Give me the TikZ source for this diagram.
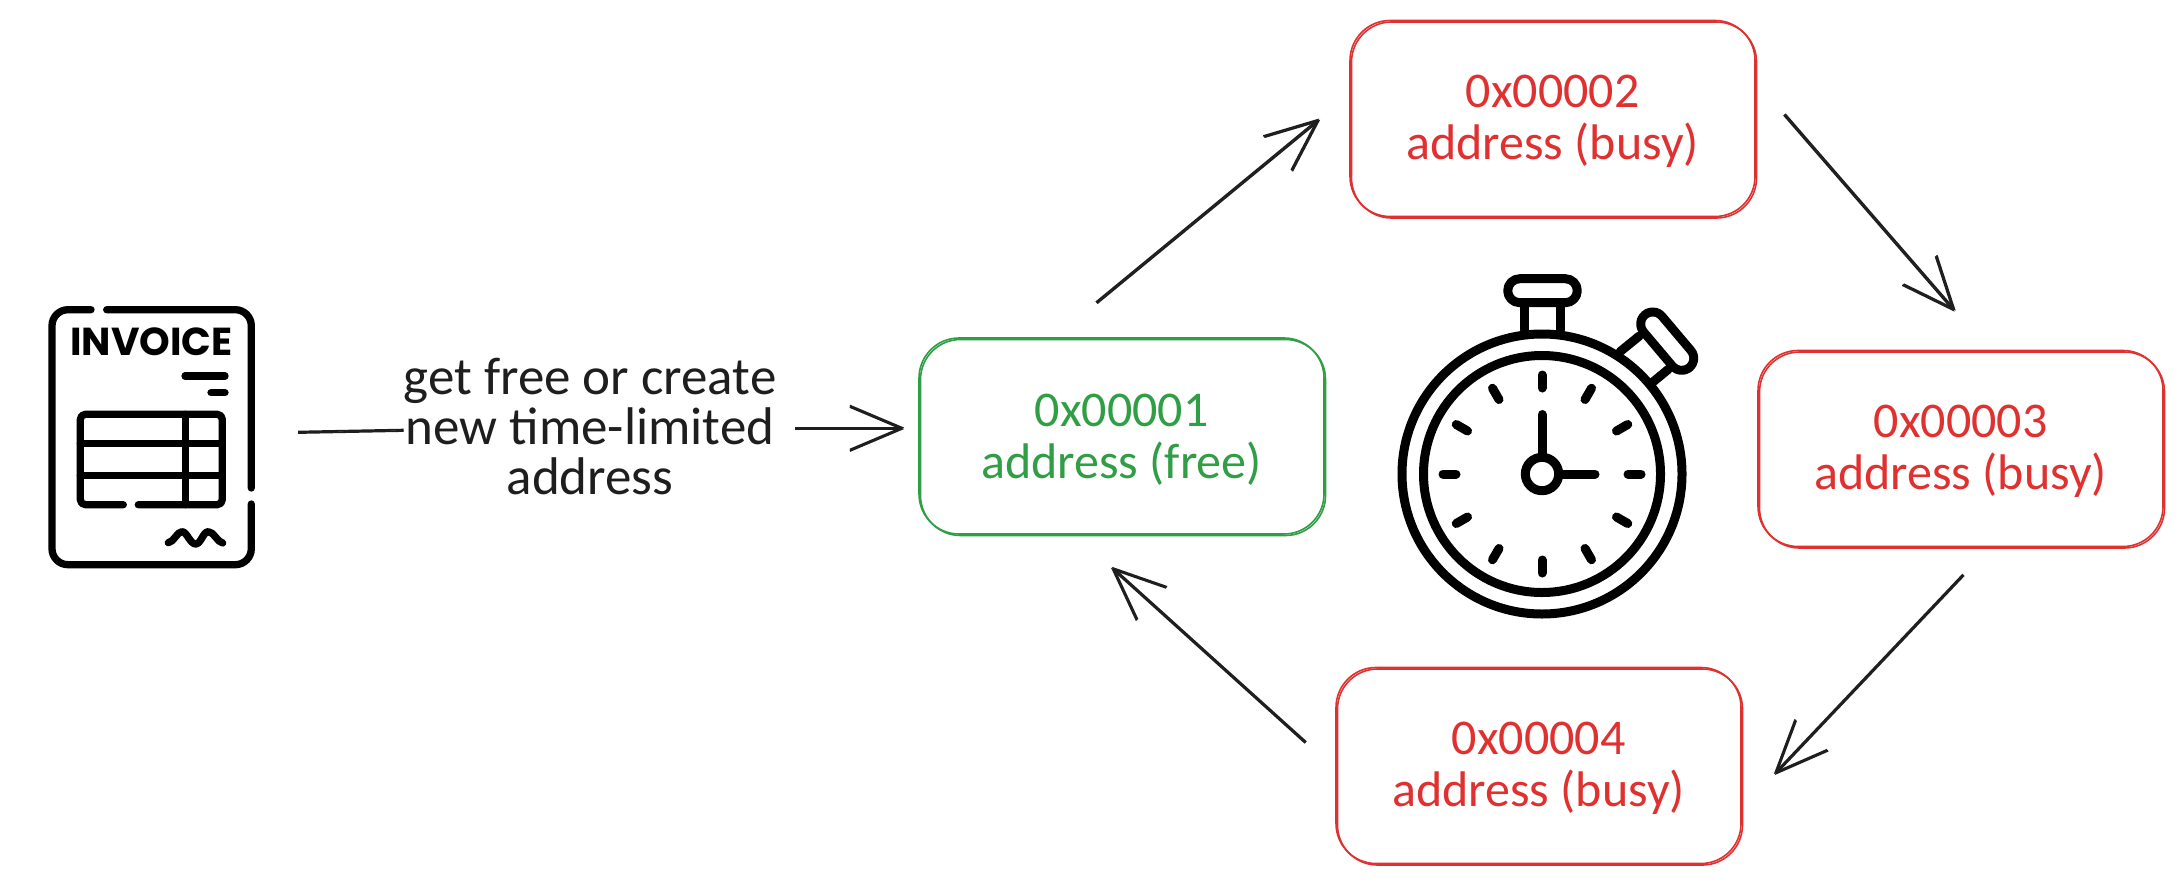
\documentclass[tikz,border=0pt]{standalone}
\usepackage{fontspec}
\setmainfont{Carlito}
\newfontfamily\invfont{Poppins}
\usetikzlibrary{arrows.meta,calc}
\definecolor{inkred}{HTML}{E03131}
\definecolor{inkgreen}{HTML}{2F9E44}
\definecolor{ink}{HTML}{1E1E1E}
\newcommand\upstrut{\rule{0pt}{39pt}}
\tikzset{
  sketch/.style={postaction={draw,transform canvas={shift={(#1)}}}},
  addrbox/.style={draw=#1,text=#1,line width=1.6pt,rounded corners=40pt,minimum width=405pt,minimum height=196pt,inner sep=0pt,align=center,font=\fontsize{50}{52}\selectfont,sketch={1.5pt,-1.5pt}},
  plainflow/.style={draw=ink,line width=1.8pt},
  flow/.style={plainflow,-{Straight Barb[length=52pt,width=44pt,line width=1.8pt]}},
  icon/.style={draw=black,line width=#1,line cap=round,line join=round},
  icon/.default=9pt
}
\begin{document}
\begin{tikzpicture}[x=1pt,y=-1pt]
\useasboundingbox[fill=white] (0,0) rectangle (2183,883);
% invoice icon
\node[minimum width=207pt,minimum height=262pt,inner sep=0pt] (inv) at (151.5,437) {};
\draw[icon=7.3pt,rounded corners=16pt] (106.7,309.7) -- (251.3,309.7) -- (251.3,488);
\draw[icon=7.3pt,rounded corners=16pt] (251.3,504) -- (251.3,564.7) -- (52,564.7) -- (52,309.7) -- (91,309.7);
\node[inner sep=0pt,font=\invfont\bfseries\fontsize{39}{39}\selectfont,text=black] (invtext) at (151.5,341.5) {INVOICE};
\draw[icon=7.3pt] (185,376) -- (225,376);
\draw[icon=7.3pt] (211,392.7) -- (225,392.7);
\draw[icon=7.3pt,rounded corners=5pt] (123.3,504.7) -- (80.3,504.7) -- (80.3,414.3) -- (222.3,414.3) -- (222.3,504.7) -- (138.3,504.7);
\draw[icon=7.3pt] (80.3,443.3) -- (222.3,443.3);
\draw[icon=7.3pt] (80.3,475.7) -- (222.3,475.7);
\draw[icon=7.3pt] (185.3,414.3) -- (185.3,504.7);
\draw[icon=7.3pt] (168.3,542.7) .. controls (174,542) and (177,531.7) .. (182,531.7) .. controls (187,531.7) and (190,544) .. (195.7,544) .. controls (201,544) and (203,531.7) .. (208.3,531.7) .. controls (214,531.7) and (217,542) .. (222.7,543);
% stopwatch icon
\draw[icon] (1507.7,278.7) ++(12,0) -- ++(45.6,0) arc[start angle=-90,end angle=90,radius=12] -- ++(-45.6,0) arc[start angle=90,end angle=270,radius=12] -- cycle;
\draw[icon] (1524.3,303) -- (1524.3,330);
\draw[icon] (1560.7,303) -- (1560.7,330);
\draw[icon=0pt,line width=33pt,line cap=round] (1652.7,324) -- (1681.7,358.3);
\draw[draw=white,line width=15pt,line cap=round] (1652.7,324) -- (1681.7,358.3);
\draw[icon] (1620,351.7) -- (1639.3,336);
\draw[icon] (1653.3,381.7) -- (1668.3,369.3);
\draw[icon] (1542,474) circle[radius=140];
\draw[icon] (1542,474) circle[radius=118.5];
\draw[icon] (1542,474) circle[radius=16.7];
\foreach \a in {0,30,...,330} {\draw[icon,shift={(1542,474)}] (\a:86) -- (\a:99);}
\draw[icon] (1542,457) -- (1542,414.5);
\draw[icon] (1559,474) -- (1595,474);
% address boxes
\node[addrbox=inkgreen] (free) at (1121.5,436) {\upstrut 0x00001\\address (free)};
\node[addrbox=inkred] (busya) at (1552.5,118.5) {\upstrut 0x00002\\address (busy)};
\node[addrbox=inkred] (busyb) at (1960.5,448.5) {\upstrut 0x00003\\address (busy)};
\node[addrbox=inkred] (busyc) at (1538.5,765.5) {\upstrut 0x00004\\address (busy)};
% connectors
\node[inner sep=0pt,align=center,text=ink,font=\fontsize{53}{50}\selectfont] (lbl) at (590,427) {get free or create\\new time-limited\\address};
\draw[plainflow,sketch={0pt,1.4pt}] ([shift={(43,-4)}]inv.east) -- ([shift={(0,4)}]lbl.west);
\draw[flow,sketch={0pt,1.4pt}] ([shift={(19,2)}]lbl.east) -- ([shift={(-14,-7)}]free.west);
\draw[flow,sketch={1pt,-1.2pt}] ([shift={(-25.5,-35)}]free.north) -- ([shift={(-30,0)}]busya.west);
\draw[flow,sketch={1.2pt,1pt}] ([shift={(28,-3.5)}]busya.east) -- ([shift={(-6,-38)}]busyb.north);
\draw[flow,sketch={1pt,-1pt}] ([shift={(2.5,27)}]busyb.south) -- ([shift={(32,8.5)}]busyc.east);
\draw[flow,sketch={1pt,1pt}] ([shift={(-30,-22.5)}]busyc.west) -- ([shift={(-10.5,33)}]free.south);
\end{tikzpicture}
\end{document}
